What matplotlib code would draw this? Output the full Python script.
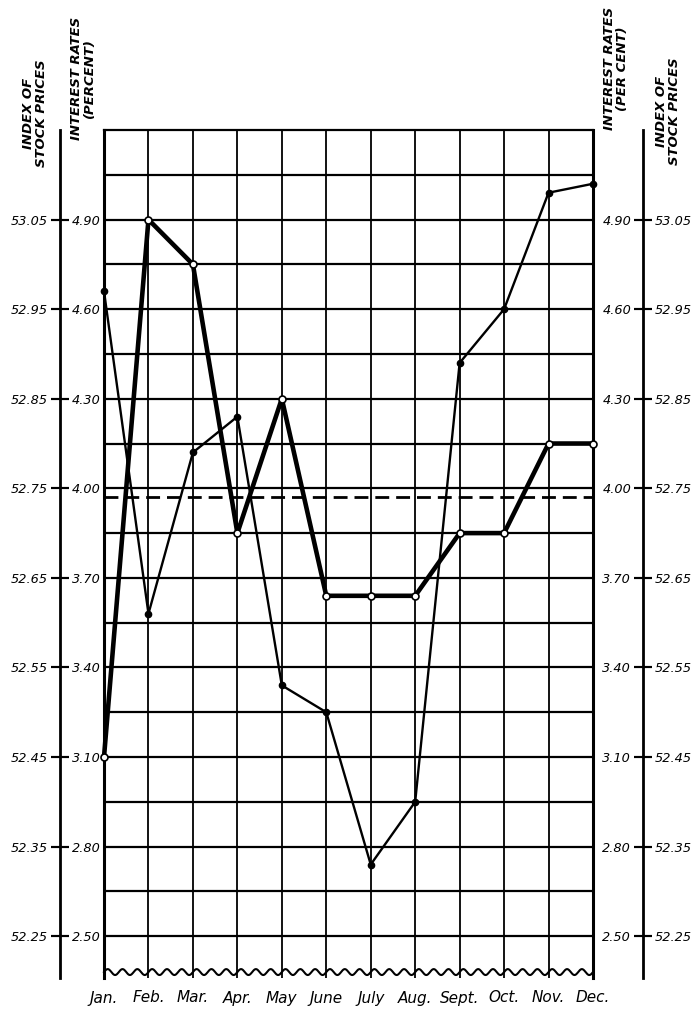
"""
Interest rates vs. index of stock prices, monthly, drawn in the style of
an old hand-lettered chart (two outer scales, wavy broken bottom edge).
Saves out.png.
"""

import numpy as np
import matplotlib
matplotlib.use("Agg")
import matplotlib.pyplot as plt
from matplotlib.transforms import blended_transform_factory

# === Data ===
months = ["Jan.", "Feb.", "Mar.", "Apr.", "May", "June",
          "July", "Aug.", "Sept.", "Oct.", "Nov.", "Dec."]
interest_rates = [3.10, 4.90, 4.75, 3.85, 4.30, 3.64,
                  3.64, 3.64, 3.85, 3.85, 4.15, 4.15]
stock_index = [52.97, 52.61, 52.79, 52.83, 52.53, 52.50,
               52.33, 52.40, 52.89, 52.95, 53.08, 53.09]
interest_mean = 3.97

interest_ticks = [4.90, 4.60, 4.30, 4.00, 3.70, 3.40, 3.10, 2.80, 2.50]
stock_ticks = [53.05, 52.95, 52.85, 52.75, 52.65, 52.55, 52.45, 52.35, 52.25]
grid_levels = [5.05, 4.90, 4.75, 4.60, 4.45, 4.30, 4.15, 4.00, 3.85,
               3.70, 3.55, 3.40, 3.25, 3.10, 2.95, 2.80, 2.65, 2.50]

interest_lim = (2.36, 5.20)
stock_lim = tuple(53.05 + (v - 4.90) / 3 for v in interest_lim)

FONT = dict(family="DejaVu Sans", style="italic")

# === Figure / layout (pixel positions of the reference) ===
W, H = 697, 1014
fig = plt.figure(figsize=(W / 100, H / 100), dpi=100)
bottom = 1 - 978 / H
height = (978 - 130) / H


def fx(px):
    return px / W


def fy(py):
    return 1 - py / H


ax = fig.add_axes([fx(104), bottom, fx(593 - 104), height])
x = np.arange(len(months))
ax.set_xlim(0, len(months) - 1)
ax.set_ylim(*interest_lim)

# grid
for lvl in grid_levels:
    ax.axhline(lvl, color="black", lw=1.6, zorder=1)
for xi in x:
    ax.axvline(xi, color="black", lw=1.3, zorder=1)
ax.axhline(interest_mean, color="black", lw=2.0, ls=(0, (5, 2.5)), zorder=2)

# frame
for side in ("left", "right"):
    ax.spines[side].set_linewidth(2.2)
ax.spines["top"].set_linewidth(1.6)
ax.spines["bottom"].set_visible(False)

# wavy broken bottom edge
tr = blended_transform_factory(ax.transData, ax.transAxes)
xs = np.linspace(0, len(months) - 1, 1200)
ax.plot(xs, 0.007 + 0.0035 * np.sin(2 * np.pi * xs * 3), color="black",
        lw=1.5, transform=tr, clip_on=False, zorder=3)

ax.set_yticks([])
ax.set_xticks(x)
ax.set_xticklabels(months, fontsize=11, **FONT)
ax.tick_params(axis="x", length=0, pad=9)

# interest rates (thick, open circles)
ax.plot(x, interest_rates, color="black", lw=3.3, marker="o", ms=5,
        mfc="white", mec="black", mew=1.2, zorder=5, clip_on=False)

# stock prices (thin, filled dots) on their own scale
ax_s = ax.twinx()
ax_s.set_ylim(*stock_lim)
ax_s.set_yticks([])
for sp in ax_s.spines.values():
    sp.set_visible(False)
ax_s.plot(x, stock_index, color="black", lw=1.7, marker="o", ms=4.5,
          zorder=4, clip_on=False)


# === Outer scales ===
def outer_scale(px, left_vals, left_lim, right_vals, right_lim):
    a = fig.add_axes([fx(px), bottom, 0.00001, height])
    a.set_xticks([])
    a.set_facecolor("none")
    for sp in ("top", "bottom", "right"):
        a.spines[sp].set_visible(False)
    a.spines["left"].set_linewidth(2.0)
    a.set_ylim(*left_lim)
    a.set_yticks(left_vals)
    a.set_yticklabels([f"{v:.2f}" for v in left_vals], fontsize=9.3, **FONT)
    a.tick_params(axis="y", direction="inout", length=13, width=1.5, pad=2)

    b = a.twinx()
    for sp in ("top", "bottom", "left", "right"):
        b.spines[sp].set_visible(False)
    b.set_ylim(*right_lim)
    b.set_yticks(right_vals)
    b.set_yticklabels([f"{v:.2f}" for v in right_vals], fontsize=9.3, **FONT)
    b.tick_params(axis="y", direction="inout", length=13, width=1.5, pad=2)


outer_scale(60, stock_ticks, stock_lim, interest_ticks, interest_lim)
outer_scale(643, interest_ticks, interest_lim, stock_ticks, stock_lim)

# === Rotated axis titles ===
title_kw = dict(rotation=90, ha="center", va="bottom", multialignment="center",
                fontsize=9.5, fontweight="bold", linespacing=1.0, **FONT)
fig.text(fx(35), fy(167), "INDEX OF\nSTOCK PRICES", **title_kw)
fig.text(fx(83), fy(140), "INTEREST RATES\n(PERCENT)", **title_kw)
fig.text(fx(616), fy(130), "INTEREST RATES\n(PER CENT)", **title_kw)
fig.text(fx(668), fy(165), "INDEX OF\nSTOCK PRICES", **title_kw)

fig.savefig("out.png", dpi=100, facecolor="white")
plt.close(fig)
